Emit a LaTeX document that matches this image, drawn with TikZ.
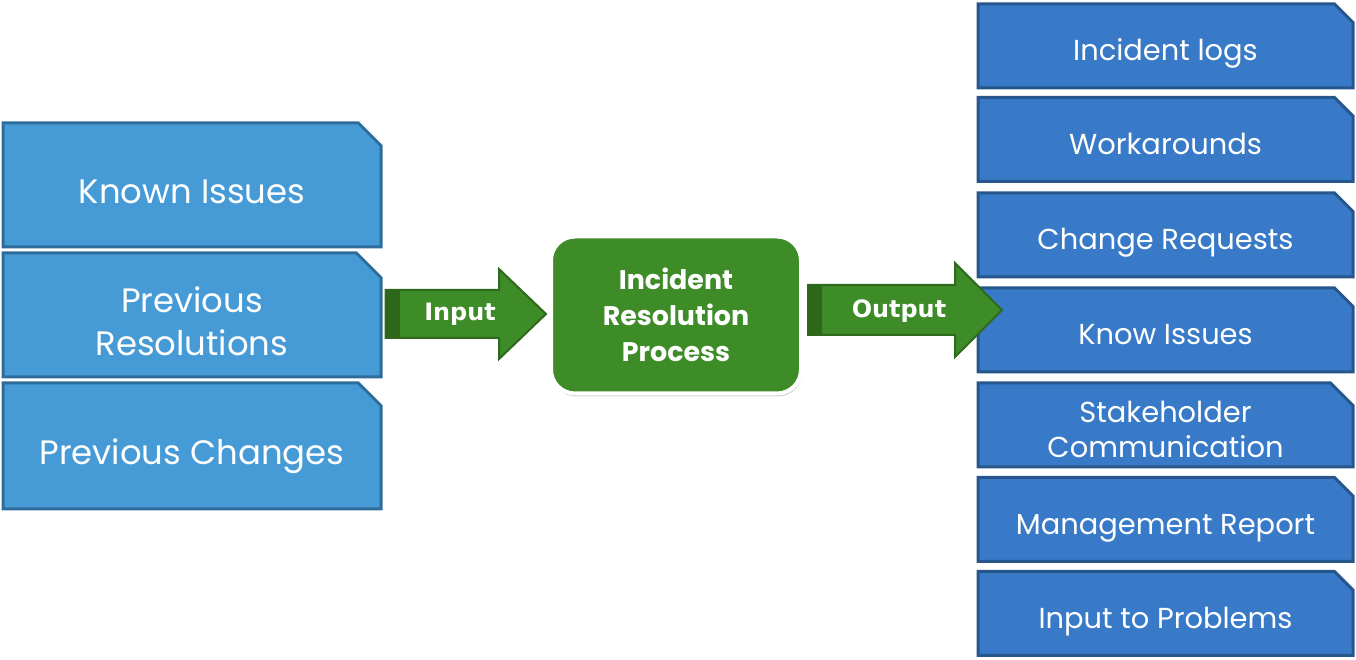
\documentclass[tikz,border=0pt]{standalone}
\usepackage{fontspec}
\setmainfont{Poppins}
\newfontfamily\lblfont{DejaVu Sans}
\usetikzlibrary{shapes.misc,shadows,calc}
\definecolor{leftfill}{RGB}{70,155,215}
\definecolor{leftline}{RGB}{46,108,155}
\definecolor{rightfill}{RGB}{56,122,200}
\definecolor{rightline}{RGB}{38,86,140}
\definecolor{procfill}{RGB}{62,140,40}
\definecolor{arrowline}{RGB}{46,105,30}
\definecolor{darkband}{RGB}{45,104,26}
\begin{document}
\begin{tikzpicture}[line join=miter,
  inbox/.style={chamfered rectangle,chamfered rectangle corners=north east,
    chamfered rectangle xsep=21bp,fill=leftfill,draw=leftline,line width=3bp,
    text=white,align=center,minimum width=378bp,inner sep=0pt,
    text height=38bp,text depth=0pt,
    font=\fontsize{34}{44}\selectfont},
  outbox/.style={chamfered rectangle,chamfered rectangle corners=north east,
    chamfered rectangle xsep=19bp,fill=rightfill,draw=rightline,line width=3bp,
    text=white,align=center,minimum width=375bp,minimum height=84bp,inner sep=0pt,
    text height=30bp,text depth=0pt,
    font=\fontsize{29}{35}\selectfont},
  procbox/.style={rounded corners=24bp,fill=procfill,draw=white,line width=4bp,
    minimum width=250bp,minimum height=157bp,text=white,align=center,
    font=\bfseries\fontsize{27}{36}\selectfont,
    drop shadow={opacity=0.35,shadow xshift=1bp,shadow yshift=-3bp}},
  arrowbody/.style={fill=procfill,draw=arrowline,line width=2bp},
  arrowlabel/.style={text=white,font=\lblfont\bfseries\fontsize{24}{28}\selectfont},
]
  \useasboundingbox (0,0) rectangle (1356bp,660bp);
%%
  % Node: known
  \node[inbox,minimum height=124bp] (known) at (192bp,475bp) {Known Issues};
  % Node: prevres
  \node[inbox,minimum height=124bp,text height=82bp] (prevres) at (192bp,345bp) {Previous\\Resolutions};
  % Node: prevchg
  \node[inbox,minimum height=126bp] (prevchg) at (192bp,214bp) {Previous Changes};
  % Node: logs
  \node[outbox] (logs) at (1165.5bp,614bp) {Incident logs};
  % Node: wkar
  \node[outbox] (wkar) at (1165.5bp,520.5bp) {Workarounds};
  % Node: chgreq
  \node[outbox] (chgreq) at (1165.5bp,425bp) {Change Requests};
  % Node: knowiss
  \node[outbox] (knowiss) at (1165.5bp,330bp) {Know Issues};
  % Node: stake
  \node[outbox,text height=65bp] (stake) at (1165.5bp,235bp) {Stakeholder\\Communication};
  % Node: mgmt
  \node[outbox] (mgmt) at (1165.5bp,140.5bp) {Management Report};
  % Node: inprob
  \node[outbox] (inprob) at (1165.5bp,46.5bp) {Input to Problems};
  % Node: proc
  \node[procbox] (proc) at (676bp,345bp) {Incident\\Resolution\\Process};
%%
  % Edge: prevres -> proc
  \coordinate (intail) at ([xshift=3bp,yshift=1bp]prevres.east);
  \coordinate (intip) at ([xshift=-3bp,yshift=1bp]proc.west);
  \draw[arrowbody] ([yshift=24bp]intail) -- ([xshift=-47bp,yshift=24bp]intip)
    -- ([xshift=-47bp,yshift=45bp]intip) -- (intip)
    -- ([xshift=-47bp,yshift=-45bp]intip) -- ([xshift=-47bp,yshift=-24bp]intip)
    -- ([yshift=-24bp]intail) -- cycle;
  \fill[darkband] ([yshift=24bp]intail) rectangle ([xshift=14bp,yshift=-24bp]intail);
  \node[arrowlabel] (inlbl) at (460bp,346bp) {Input};
  % Edge: proc -> knowiss
  \coordinate (outtail) at ([xshift=5bp,yshift=5bp]proc.east);
  \coordinate (outtip) at (1002bp,350bp);
  \draw[arrowbody] ([yshift=25bp]outtail) -- ([xshift=-47bp,yshift=25bp]outtip)
    -- ([xshift=-47bp,yshift=47bp]outtip) -- (outtip)
    -- ([xshift=-47bp,yshift=-47bp]outtip) -- ([xshift=-47bp,yshift=-25bp]outtip)
    -- ([yshift=-25bp]outtail) -- cycle;
  \fill[darkband] ([yshift=25bp]outtail) rectangle ([xshift=14bp,yshift=-25bp]outtail);
  \node[arrowlabel] (outlbl) at (899bp,349bp) {Output};
%
\end{tikzpicture}
\end{document}
